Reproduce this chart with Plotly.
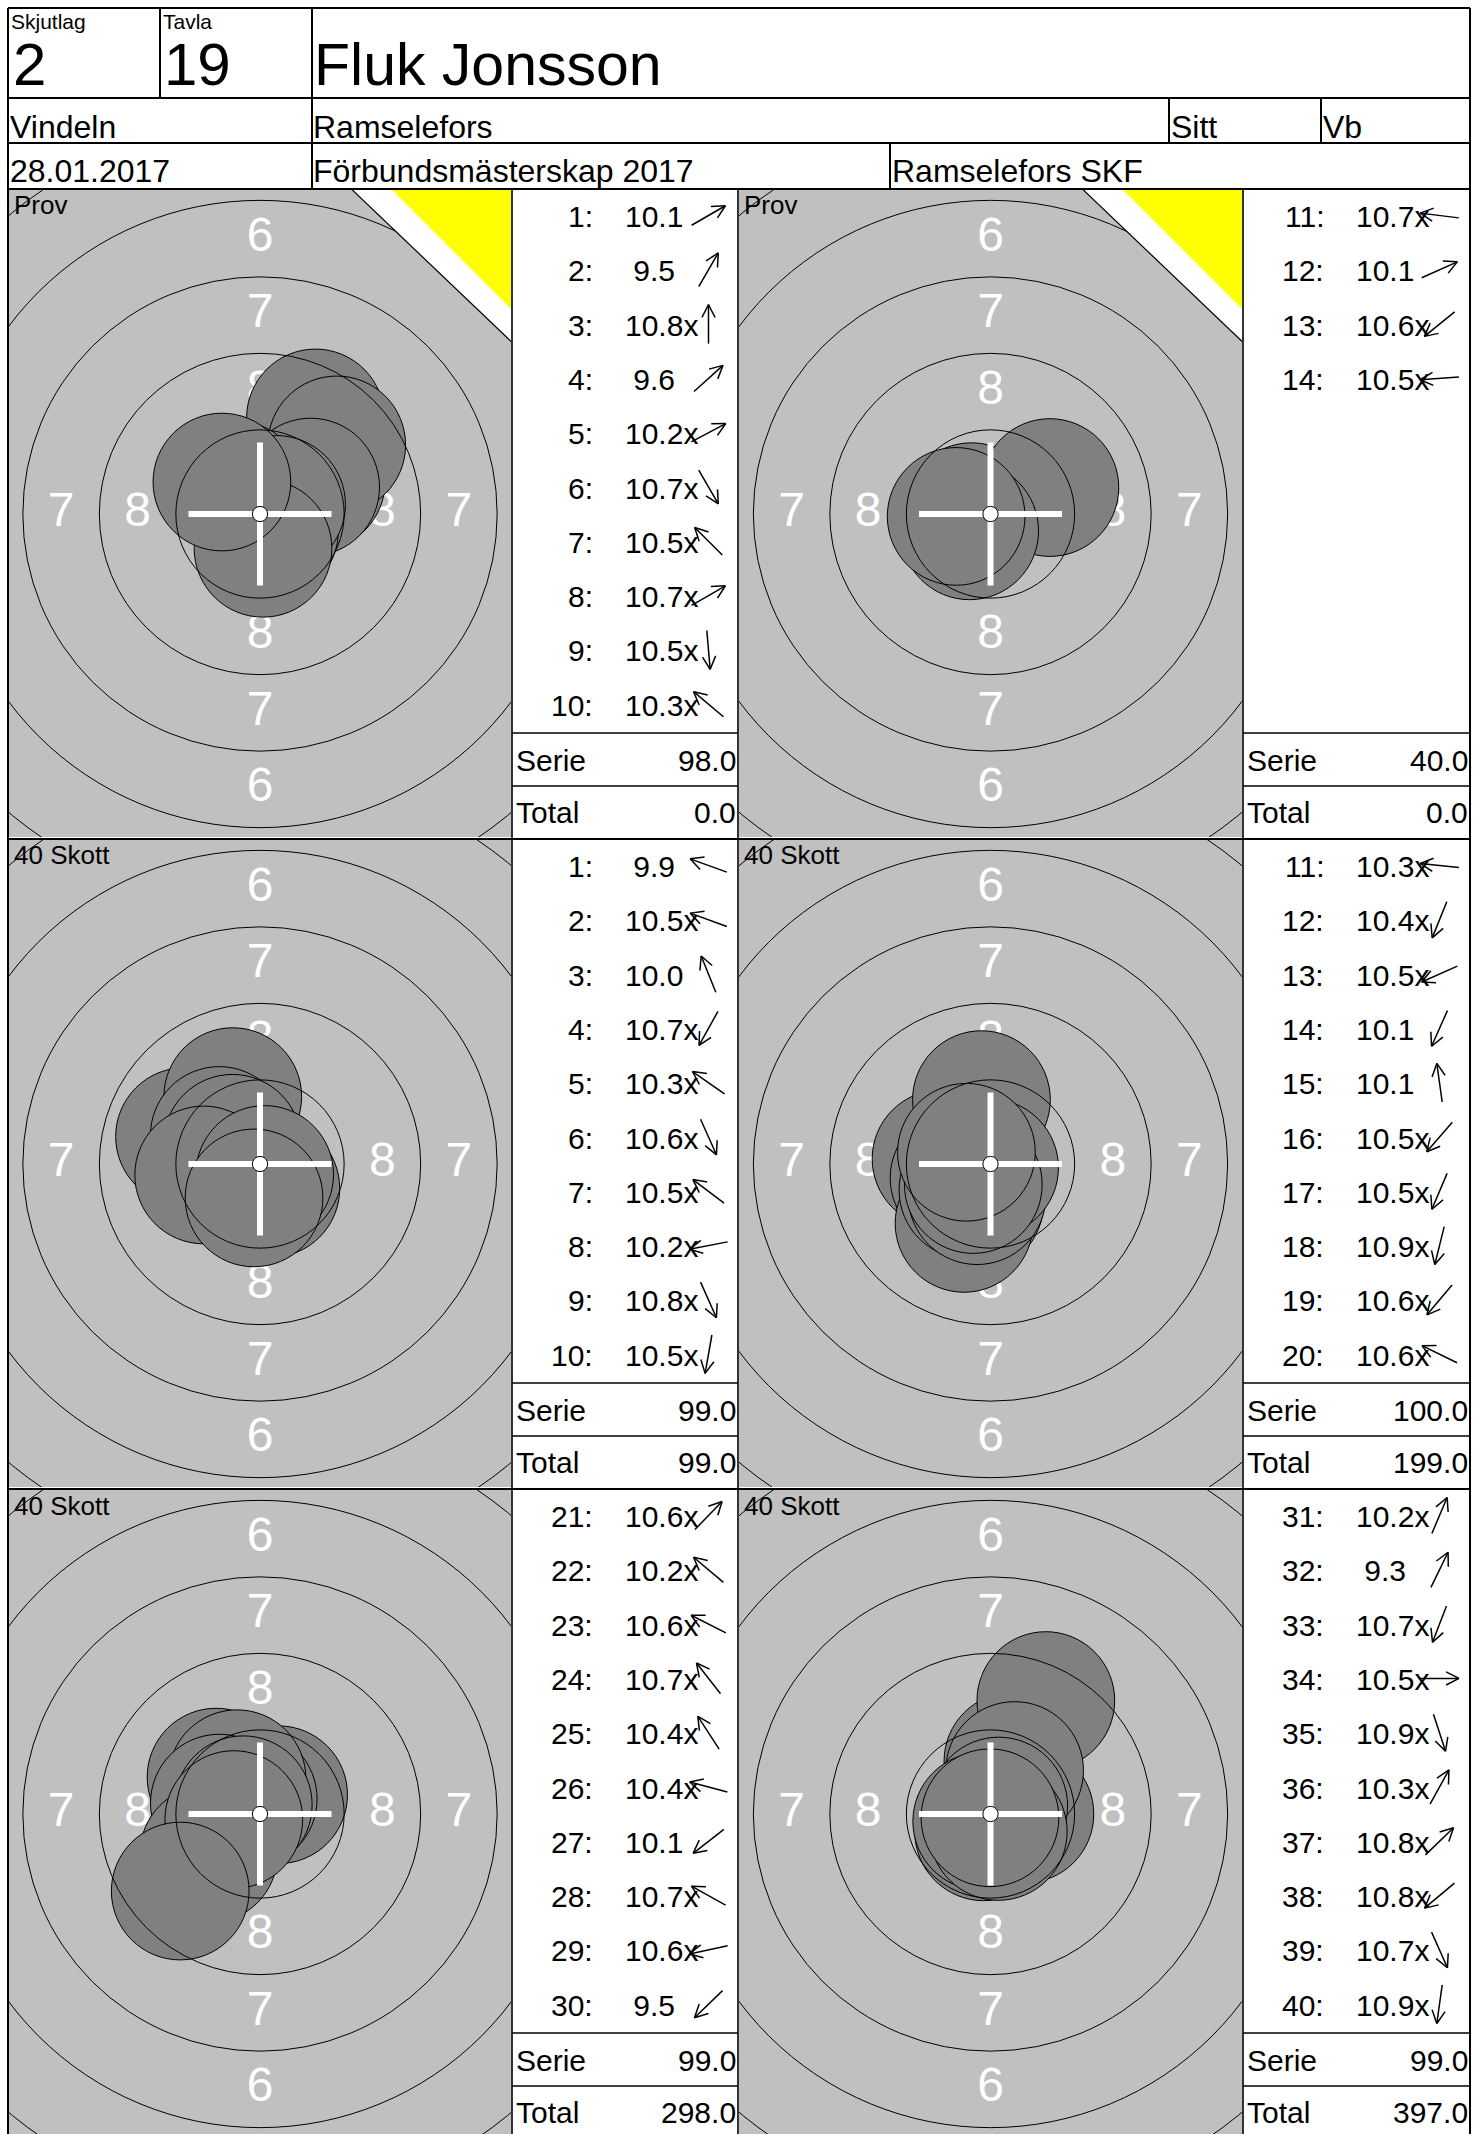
import math
import plotly.graph_objects as go

PAGE_W, PAGE_H = 1477, 2134
FONT = "Liberation Sans, Arial, Helvetica, sans-serif"

# ---------------- header data ----------------
skjutlag_label = "Skjutlag"
skjutlag = "2"
tavla_label = "Tavla"
tavla = "19"
skytt = "Fluk Jonsson"
klubb_ort = "Vindeln"
ort = "Ramselefors"
stallning = "Sitt"
klass = "Vb"
datum = "28.01.2017"
tavling = "Förbundsmästerskap 2017"
arrangor = "Ramselefors SKF"

# ---------------- shot data ----------------
panel_titles = ["Prov", "Prov", "40 Skott", "40 Skott", "40 Skott", "40 Skott"]
panel_first_shot = [1, 11, 1, 11, 21, 31]
panel_is_prov = [True, True, False, False, False, False]

scores_prov_a = [10.1, 9.5, 10.8, 9.6, 10.2, 10.7, 10.5, 10.7, 10.5, 10.3]
dirs_prov_a = [30, 60, 90, 42, 28, -60, 135, 30, -85, 140]
scores_prov_b = [10.7, 10.1, 10.6, 10.5]
dirs_prov_b = [173, 24, 219, 184]
scores_serie1 = [9.9, 10.5, 10.0, 10.7, 10.3, 10.6, 10.5, 10.2, 10.8, 10.5]
dirs_serie1 = [160, 160, 112, 241, 145, -66, 143, 191, -66, 260]
scores_serie2 = [10.3, 10.4, 10.5, 10.1, 10.1, 10.5, 10.5, 10.9, 10.6, 10.6]
dirs_serie2 = [174, 248, 204, 246, 98, 229, 247, 256, 230, 154]
scores_serie3 = [10.6, 10.2, 10.6, 10.7, 10.4, 10.4, 10.1, 10.7, 10.6, 9.5]
dirs_serie3 = [46, 140, 153, 128, 123, 165, 218, 151, 192, 224]
scores_serie4 = [10.2, 9.3, 10.7, 10.5, 10.9, 10.3, 10.8, 10.8, 10.7, 10.9]
dirs_serie4 = [67, 64, 249, 0, 288, 61, 44, 220, 294, 262]

serie_values = [98.0, 40.0, 99.0, 100.0, 99.0, 99.0]
total_values = [0.0, 0.0, 99.0, 199.0, 298.0, 397.0]
ring_label_values = [6, 7, 8]

panel_scores = [scores_prov_a, scores_prov_b, scores_serie1, scores_serie2, scores_serie3, scores_serie4]
panel_dirs = [dirs_prov_a, dirs_prov_b, dirs_serie1, dirs_serie2, dirs_serie3, dirs_serie4]

# ---------------- geometry / style ----------------
W = 76.5            # pixels per ring width
SHOT_R = 0.9        # pellet radius in ring widths
TEN_R = 0.1
RING_R = [1.1, 2.1, 3.1, 4.1, 5.1]
COLS = [(8, 512, 738), (738, 1243, 1470)]
ROW_TOPS = [189, 839, 1489]
PANEL_H = 650
ROW_H = 54.3

GRAY_BG = "#C0C0C0"
SHOT_FILL = "#808080"

ARROW_HALF = 19.5
HEAD_LEN = 14.5
HEAD_ANG = 27

shapes = []
annotations = []
traces = []
layout_axes = {}


def px_x(x):
    return x / PAGE_W


def px_y(y):
    return 1 - y / PAGE_H


def line_px(x0, y0, x1, y1, w=2.0):
    shapes.append(dict(type="line", xref="paper", yref="paper",
                       x0=px_x(x0), x1=px_x(x1), y0=px_y(y0), y1=px_y(y1),
                       line=dict(color="black", width=w), layer="above"))


def text_px(x, y, s, size, anchor="left", color="black"):
    annotations.append(dict(x=px_x(x), y=px_y(y), xref="paper", yref="paper",
                            text=s, showarrow=False, xanchor=anchor, yanchor="middle",
                            borderpad=0, borderwidth=0,
                            font=dict(family=FONT, size=size, color=color)))


def fmt_score(s):
    t = f"{s:.1f}"
    if s < 10:
        t = "\u00a0" + t
    if s >= 10.2:
        t += "x"
    return t


arrow_x, arrow_y = [], []

for p in range(6):
    k = p + 1
    r, c = divmod(p, 2)
    tx0, tx1, lx1 = COLS[c]
    lx0 = tx1
    top = ROW_TOPS[r]
    bot = top + PANEL_H
    cx = (tx0 + tx1) / 2
    cy = top + PANEL_H / 2

    gx0, gx1 = tx0 + 1, tx1 - 1
    gy0, gy1 = top + 1, min(bot - 2, PAGE_H)

    xname = "xaxis" if k == 1 else f"xaxis{k}"
    yname = "yaxis" if k == 1 else f"yaxis{k}"
    xr = "x" if k == 1 else f"x{k}"
    yr = "y" if k == 1 else f"y{k}"
    layout_axes[xname] = dict(domain=[px_x(gx0), px_x(gx1)],
                              range=[(gx0 - cx) / W, (gx1 - cx) / W],
                              visible=False, fixedrange=True, showgrid=False,
                              zeroline=False, anchor=yr)
    layout_axes[yname] = dict(domain=[px_y(gy1), px_y(gy0)],
                              range=[(cy - gy1) / W, (cy - gy0) / W],
                              visible=False, fixedrange=True, showgrid=False,
                              zeroline=False, anchor=xr)

    # target background
    shapes.append(dict(type="rect", xref=f"{xr} domain", yref=f"{yr} domain",
                       x0=0, x1=1, y0=0, y1=1, fillcolor=GRAY_BG,
                       line=dict(width=0), layer="below"))

    # ring numbers (under the shots)
    lab_x, lab_y, lab_t = [], [], []
    for v in ring_label_values:
        rad = 9.6 - v
        for (ux, uy) in [(0, 1), (0, -1), (1, 0), (-1, 0)]:
            if ux and rad * W > (tx1 - tx0) / 2:
                continue
            lab_x.append(ux * rad)
            lab_y.append(uy * rad)
            lab_t.append(str(v))
    traces.append(go.Scatter(x=lab_x, y=lab_y, text=lab_t, mode="text",
                             textposition="middle center",
                             textfont=dict(family=FONT, size=48, color="white"),
                             xaxis=xr, yaxis=yr, hoverinfo="skip",
                             showlegend=False, cliponaxis=True))

    # shots
    for s, a in zip(panel_scores[p], panel_dirs[p]):
        d = 11.0 - s - 0.05
        sx = d * math.cos(math.radians(a))
        sy = d * math.sin(math.radians(a))
        shapes.append(dict(type="circle", xref=xr, yref=yr,
                           x0=sx - SHOT_R, x1=sx + SHOT_R,
                           y0=sy - SHOT_R, y1=sy + SHOT_R,
                           fillcolor=SHOT_FILL, line=dict(color="black", width=1),
                           layer="above"))

    # rings
    for R in RING_R:
        shapes.append(dict(type="circle", xref=xr, yref=yr,
                           x0=-R, x1=R, y0=-R, y1=R,
                           line=dict(color="black", width=1), layer="above"))

    # corner triangle for sighting shots
    if panel_is_prov[p]:
        xe = (tx1 - cx) / W
        ye = (cy - top) / W
        a1, a2 = 2.1, 1.68
        shapes.append(dict(type="path", xref=xr, yref=yr,
                           path=f"M {xe - a1},{ye} L {xe + 0.1},{ye} L {xe + 0.1},{ye - a1} Z",
                           fillcolor="white", line=dict(color="black", width=1.2),
                           layer="above"))
        shapes.append(dict(type="path", xref=xr, yref=yr,
                           path=f"M {xe - a2},{ye + 0.1} L {xe + 0.1},{ye + 0.1} L {xe + 0.1},{ye - a2} Z",
                           fillcolor="#FFFF00", line=dict(width=0),
                           layer="above"))

    # crosshair + 10 dot
    arm = 0.935
    for (x0, y0, x1, y1) in [(-arm, 0, arm, 0), (0, -arm, 0, arm)]:
        shapes.append(dict(type="line", xref=xr, yref=yr, x0=x0, y0=y0, x1=x1, y1=y1,
                           line=dict(color="white", width=6), layer="above"))
    shapes.append(dict(type="circle", xref=xr, yref=yr,
                       x0=-TEN_R, x1=TEN_R, y0=-TEN_R, y1=TEN_R,
                       fillcolor="white", line=dict(color="black", width=1),
                       layer="above"))

    # panel title
    text_px(tx0 + 6, top + 16.5, panel_titles[p], 26)

    # score list
    for i, (s, a) in enumerate(zip(panel_scores[p], panel_dirs[p])):
        yc = top + 27.5 + i * ROW_H
        text_px(lx0 + 81, yc, f"{panel_first_shot[p] + i}:", 30, anchor="right")
        text_px(lx0 + 113, yc, fmt_score(s), 30, anchor="left")
        # direction arrow
        axc, ayc = lx0 + 196.5, yc - 1
        ux, uy = math.cos(math.radians(a)), -math.sin(math.radians(a))
        tail = (axc - ARROW_HALF * ux, ayc - ARROW_HALF * uy)
        tip = (axc + ARROW_HALF * ux, ayc + ARROW_HALF * uy)
        arrow_x += [tail[0], tip[0], None]
        arrow_y += [tail[1], tip[1], None]
        for sgn in (1, -1):
            b = math.radians(a + 180 + sgn * HEAD_ANG)
            hx = tip[0] + HEAD_LEN * math.cos(b)
            hy = tip[1] - HEAD_LEN * math.sin(b)
            arrow_x += [tip[0], hx, None]
            arrow_y += [tip[1], hy, None]

    text_px(lx0 + 4, top + 571, "Serie", 30)
    text_px(lx1 - 2.5, top + 571, f"{serie_values[p]:.1f}", 30, anchor="right")
    text_px(lx0 + 4, top + 623, "Total", 30)
    text_px(lx1 - 2.5, top + 623, f"{total_values[p]:.1f}", 30, anchor="right")

    line_px(lx0, top + 544, lx1, top + 544, 1.3)
    line_px(lx0, top + 597, lx1, top + 597, 1.3)

# overlay axis for arrows (pixel space)
layout_axes["xaxis7"] = dict(domain=[0, 1], range=[0, PAGE_W], visible=False,
                             fixedrange=True, showgrid=False, zeroline=False, anchor="y7")
layout_axes["yaxis7"] = dict(domain=[0, 1], range=[PAGE_H, 0], visible=False,
                             fixedrange=True, showgrid=False, zeroline=False, anchor="x7")
traces.append(go.Scatter(x=arrow_x, y=arrow_y, mode="lines",
                         line=dict(color="black", width=1.5),
                         xaxis="x7", yaxis="y7", hoverinfo="skip",
                         showlegend=False, cliponaxis=False))

# ---------------- header grid & texts ----------------
L, R = 8, 1470
line_px(L, 8, R, 8)
line_px(L, 98, R, 98)
line_px(L, 143, R, 143)
line_px(L, 189, R, 189)
line_px(L, 8, L, PAGE_H)
line_px(R, 8, R, PAGE_H)
line_px(160, 8, 160, 98)
line_px(312, 8, 312, 189)
line_px(1169, 98, 1169, 143)
line_px(1321, 98, 1321, 143)
line_px(890, 143, 890, 189)
for yl in ROW_TOPS[1:]:
    line_px(L, yl, R, yl)
for xl in (512, 738, 1243):
    line_px(xl, 189, xl, PAGE_H, 1.6)

text_px(11, 21.5, skjutlag_label, 21)
text_px(163, 21.5, tavla_label, 21)
text_px(13, 65, skjutlag, 60)
text_px(164, 65, tavla, 60)
text_px(314, 65, skytt, 59)
text_px(10, 126.5, klubb_ort, 32)
text_px(313, 126.5, ort, 32)
text_px(1171, 126.5, stallning, 32)
text_px(1323, 126.5, klass, 32)
text_px(10, 171, datum, 32)
text_px(313, 171, tavling, 32)
text_px(892, 171, arrangor, 32)

fig = go.Figure(data=traces)
fig.update_layout(width=PAGE_W, height=PAGE_H, autosize=False,
                  margin=dict(l=0, r=0, t=0, b=0, pad=0),
                  paper_bgcolor="white", plot_bgcolor="rgba(0,0,0,0)",
                  showlegend=False, hovermode=False,
                  shapes=shapes, annotations=annotations, **layout_axes)

fig.write_html("out.html", config={"displayModeBar": False, "staticPlot": True},
               post_script="document.body.style.margin='0';document.body.style.overflow='hidden';")
